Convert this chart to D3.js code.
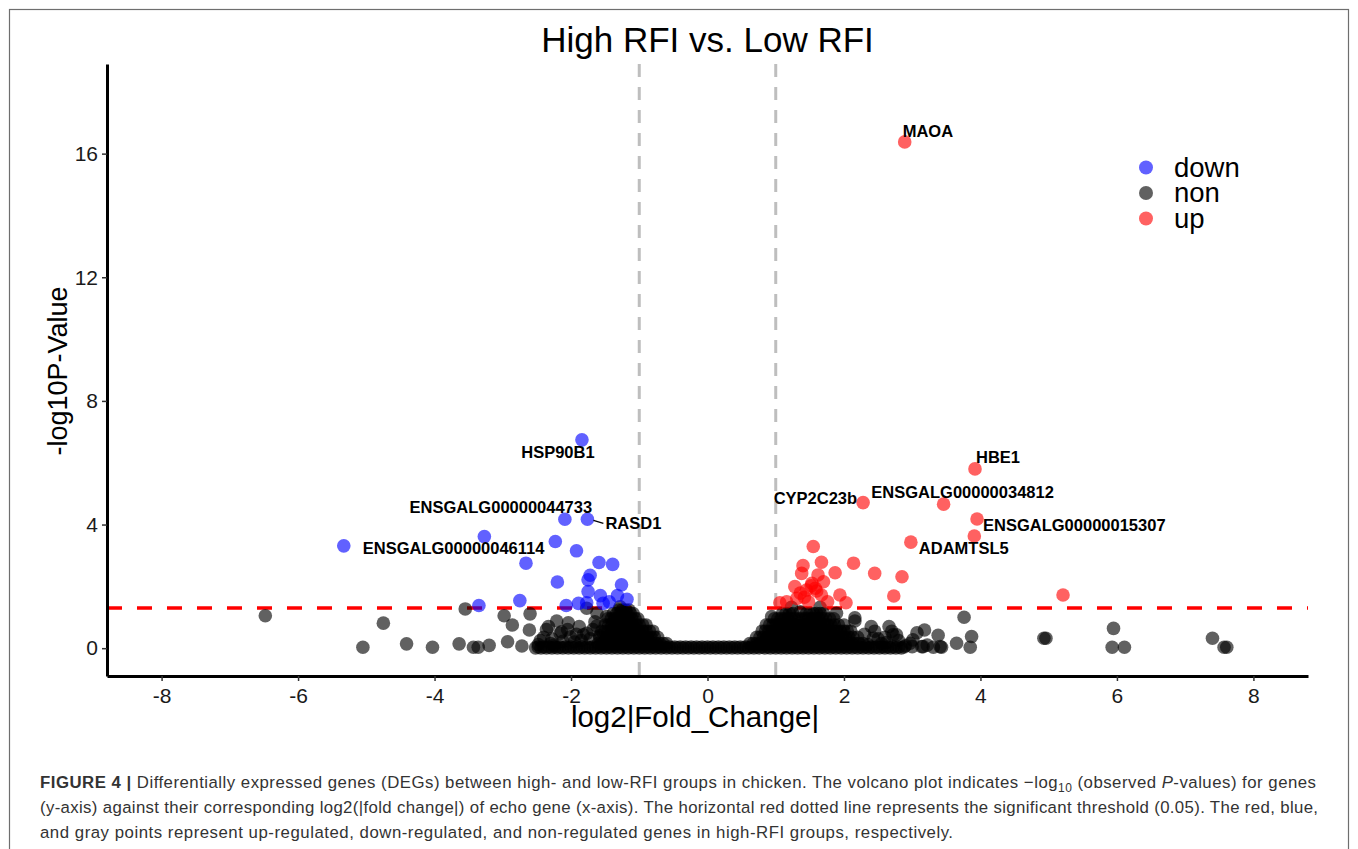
<!DOCTYPE html>
<html>
<head>
<meta charset="utf-8">
<script src="https://cdn.jsdelivr.net/npm/d3@7"></script>
<style>
  html, body { margin: 0; padding: 0; background: #fff; }
  svg { display: block; font-family: "Liberation Sans", Arial, sans-serif; }
</style>
</head>
<body>
<div id="chart"></div>
<script>
// ============= Data (log2 fold change, -log10 p) =============

const downGenes = [
  [-1.84, 6.74, "HSP90B1"], [-2.09, 4.17, "ENSGALG00000044733"], [-1.76, 4.17, "RASD1"],
  [-3.27, 3.61], [-5.33, 3.31, "ENSGALG00000046114"], [-2.23, 3.45], [-1.92, 3.15],
  [-2.66, 2.75], [-1.59, 2.77], [-1.39, 2.71], [-1.72, 2.36], [-1.75, 2.21], [-2.20, 2.14],
  [-1.26, 2.05], [-1.75, 1.83], [-1.57, 1.70], [-1.32, 1.70], [-1.18, 1.58], [-1.44, 1.50],
  [-2.75, 1.54], [-3.35, 1.38], [-2.07, 1.38], [-1.89, 1.45], [-1.77, 1.47], [-1.53, 1.45]
];

const upGenes = [
  [2.89, 16.38, "MAOA"], [3.92, 5.80, "HBE1"], [2.28, 4.71, "CYP2C23b"],
  [3.46, 4.66, "ENSGALG00000034812"], [3.95, 4.18, "ENSGALG00000015307"], [3.91, 3.63],
  [2.98, 3.43, "ADAMTSL5"], [1.55, 3.29], [1.40, 2.67], [1.67, 2.78], [2.14, 2.75],
  [2.45, 2.42], [2.85, 2.31], [1.38, 2.42], [1.62, 2.37], [1.87, 2.44], [1.70, 2.15],
  [1.53, 2.10], [1.28, 1.99], [1.45, 1.88], [1.58, 1.94], [1.36, 1.78], [1.67, 1.72],
  [1.94, 1.72], [2.73, 1.69], [1.16, 1.50], [1.31, 1.61], [1.48, 1.50], [1.76, 1.50],
  [2.03, 1.47], [5.21, 1.72], [1.06, 1.47], [1.52, 2.02], [1.60, 1.85], [1.42, 1.65]
];

// non-significant genes that stand apart
const nonGenes = [
  [-6.48, 1.05], [-5.05, 0.03], [-4.75, 0.81], [-4.41, 0.14], [-4.03, 0.03], [-3.64, 0.14],
  [-3.55, 1.27], [-3.43, 0.03], [-3.36, 0.03], [-3.20, 0.09], [-2.98, 1.05], [-2.93, 0.21],
  [-2.86, 0.75], [-2.72, 0.07], [-2.61, 0.59], [-2.60, 1.11], [-2.48, 0.12], [-2.45, 0.25],
  [-2.40, 0.35], [-2.36, 0.60], [-2.33, 0.70], [-2.30, 0.15], [-2.28, 0.30], [-2.25, 0.10],
  [-2.21, 0.88], [-2.16, 0.48], [-2.14, 0.53], [-2.12, 0.22], [-2.05, 0.60], [-2.04, 0.82],
  [-2.01, 0.37], [-1.95, 0.20], [-1.92, 0.45], [-1.88, 0.70], [-1.85, 0.25], [-1.82, 0.43],
  [-1.77, 1.29], [-1.77, 0.48], [-1.72, 0.30], [-1.68, 0.60], [-1.65, 0.85], [-1.62, 1.13],
  [-1.62, 0.72], [-1.58, 0.40], [-1.48, 1.02], [-1.28, 1.34],
  [1.23, 1.32], [1.65, 1.32], [0.94, 1.02], [2.16, 0.98], [1.36, 1.18], [1.89, 1.13],
  [2.16, 0.88], [2.30, 0.45], [2.35, 0.12], [2.40, 0.70], [2.43, 0.32], [2.45, 0.55],
  [2.50, 0.30], [2.55, 0.15], [2.60, 0.35], [2.62, 0.18], [2.66, 0.70], [2.70, 0.55],
  [2.72, 0.43], [2.77, 0.43], [2.80, 0.25], [2.90, 0.08], [2.97, 0.16], [3.00, 0.05],
  [3.01, 0.27], [3.07, 0.50], [3.14, 0.05], [3.16, 0.05], [3.18, 0.59], [3.22, 0.10],
  [3.31, 0.03], [3.38, 0.42], [3.41, 0.05], [3.43, 0.03], [3.65, 0.16], [3.76, 1.00],
  [3.85, 0.03], [3.87, 0.38], [4.93, 0.32], [4.96, 0.32], [5.93, 0.03], [5.95, 0.64],
  [6.11, 0.03], [7.40, 0.32], [7.57, 0.03], [7.61, 0.03]
];

// the solid black masses: rows of genes at about the same -log10 p
const nonDense = [
  // flat band near p = 1
  [0.01, [-2.52, -2.44, -2.36, -2.28, -2.20, -2.12, -2.04, -1.96, -1.88, -1.80, -1.72, -1.64,
          -1.56, -1.48, -1.40, -1.32, -1.24, -1.16, -1.08, -1.00, -0.92, -0.84, -0.76, -0.68,
          -0.60, -0.52, -0.44, -0.36, -0.28, -0.20, -0.12, -0.04, 0.04, 0.12, 0.20, 0.28,
          0.36, 0.44, 0.52, 0.60, 0.68, 0.76, 0.84, 0.92, 1.00, 1.08, 1.16, 1.24, 1.32,
          1.40, 1.48, 1.56, 1.64, 1.72, 1.80, 1.88, 1.96, 2.04, 2.12, 2.20, 2.28, 2.36,
          2.44, 2.52, 2.60, 2.68, 2.76, 2.84]],
  [0.04, [-2.48, -2.40, -2.32, -2.24, -2.16, -2.08, -2.00, -1.92, -1.84, -1.76, -1.68, -1.60,
          -1.52, -1.44, -1.36, -1.28, -1.20, -1.12, -1.04, -0.96, -0.88, -0.80, -0.72, -0.64,
          -0.56, -0.48, -0.40, -0.32, -0.24, -0.16, -0.08, 0.00, 0.08, 0.16, 0.24, 0.32,
          0.40, 0.48, 0.56, 0.64, 0.72, 0.80, 0.88, 0.96, 1.04, 1.12, 1.20, 1.28, 1.36,
          1.44, 1.52, 1.60, 1.68, 1.76, 1.84, 1.92, 2.00, 2.08, 2.16, 2.24, 2.32, 2.40,
          2.48, 2.56, 2.64, 2.72, 2.80, 2.88]],
  // left mound
  [0.15, [-1.60, -1.55, -1.50, -1.45, -1.40, -1.35, -1.30, -1.25, -1.20, -1.15, -1.10, -1.05,
          -1.00, -0.95, -0.90, -0.85, -0.80, -0.75, -0.70, -0.65, -0.60]],
  [0.35, [-1.58, -1.53, -1.48, -1.43, -1.38, -1.33, -1.28, -1.23, -1.18, -1.13, -1.08, -1.03,
          -0.98, -0.93, -0.88, -0.83, -0.78, -0.73]],
  [0.55, [-1.55, -1.50, -1.45, -1.40, -1.35, -1.30, -1.25, -1.20, -1.15, -1.10, -1.05, -1.00,
          -0.95, -0.90, -0.85, -0.80]],
  [0.75, [-1.50, -1.45, -1.40, -1.35, -1.30, -1.25, -1.20, -1.15, -1.10, -1.05, -1.00, -0.95,
          -0.90]],
  [0.95, [-1.46, -1.41, -1.36, -1.31, -1.26, -1.21, -1.16, -1.11, -1.06, -1.02]],
  [1.12, [-1.38, -1.33, -1.28, -1.23, -1.18, -1.13, -1.09]],
  [1.23, [-1.30, -1.25, -1.20, -1.15]],
  // right mound
  [0.15, [0.62, 0.67, 0.72, 0.77, 0.82, 0.87, 0.92, 0.97, 1.02, 1.07, 1.12, 1.17, 1.22, 1.27,
          1.32, 1.37, 1.42, 1.47, 1.52, 1.57, 1.62, 1.67, 1.72, 1.77, 1.82, 1.87, 1.92, 1.97,
          2.02, 2.07, 2.12, 2.17, 2.22, 2.28]],
  [0.35, [0.72, 0.77, 0.82, 0.87, 0.92, 0.97, 1.02, 1.07, 1.12, 1.17, 1.22, 1.27, 1.32, 1.37,
          1.42, 1.47, 1.52, 1.57, 1.62, 1.67, 1.72, 1.77, 1.82, 1.87, 1.92, 1.97, 2.02, 2.07,
          2.13, 2.20]],
  [0.55, [0.80, 0.85, 0.90, 0.95, 1.00, 1.05, 1.10, 1.15, 1.20, 1.25, 1.30, 1.35, 1.40, 1.45,
          1.50, 1.55, 1.60, 1.65, 1.70, 1.75, 1.80, 1.85, 1.90, 1.95, 2.00, 2.05, 2.10]],
  [0.75, [0.86, 0.91, 0.96, 1.01, 1.06, 1.11, 1.16, 1.21, 1.26, 1.31, 1.36, 1.41, 1.46, 1.51,
          1.56, 1.61, 1.66, 1.71, 1.76, 1.81, 1.86, 1.92, 2.00]],
  [0.95, [0.98, 1.03, 1.08, 1.13, 1.18, 1.23, 1.28, 1.33, 1.38, 1.43, 1.48, 1.53, 1.58, 1.63,
          1.68, 1.73, 1.79, 1.85]],
  [1.12, [1.10, 1.15, 1.20, 1.25, 1.45, 1.50, 1.55, 1.60, 1.65, 1.70]]
];

const groups = ["down", "non", "up"];
const xTicks = [-8, -6, -4, -2, 0, 2, 4, 6, 8];
const yTicks = [0, 4, 8, 12, 16];
const foldCut = 1;       // |log2FC| = 1
const pCut = 0.05;       // significance threshold

const captionLines = [
  [["FIGURE 4 | ", "b"], ["Differentially expressed genes (DEGs) between high- and low-RFI groups in chicken. The volcano plot indicates \u2212log", ""], ["10", "sub"], [" (observed ", "up"], ["P", "i"], ["-values) for genes", ""]],
  [["(y-axis) against their corresponding log2(|fold change|) of echo gene (x-axis). The horizontal red dotted line represents the significant threshold (0.05). The red, blue,", ""]],
  [["and gray points represent up-regulated, down-regulated, and non-regulated genes in high-RFI groups, respectively.", ""]]
];
const captionWidths = [1276, 1278, 913];

// label placement (px offset from its point, text anchor)
const labelNudge = {
  "MAOA": [-2, -5, "start"],
  "HSP90B1": [-24, 18, "middle"],
  "ENSGALG00000044733": [-64, -6, "middle"],
  "RASD1": [18, 10, "start"],
  "ENSGALG00000046114": [19, 8, "start"],
  "HBE1": [1, -6, "start"],
  "CYP2C23b": [-6, 1, "end"],
  "ENSGALG00000034812": [19, -6, "middle"],
  "ENSGALG00000015307": [6, 12, "start"],
  "ADAMTSL5": [8, 12, "start"]
};

// ============= Layout =============
const width = 1358;
const height = 849;
const panel = { left: 107, right: 1308, top: 64, bottom: 676 };
const font = '"Liberation Sans", Arial, sans-serif';

const x = d3.scaleLinear().domain([-8.8, 8.8]).range([panel.left, panel.right]);
const y = d3.scaleLinear().domain([-0.9, 18.9]).range([panel.bottom, panel.top]);
const color = d3.scaleOrdinal().domain(groups).range(["#0000ff", "#000000", "#ff0000"]);

const points = [
  ...nonGenes.map(d => ({ fc: d[0], p: d[1], group: "non" })),
  ...nonDense.flatMap(([p, xs]) => xs.map(fc => ({ fc, p, group: "non" }))),
  ...downGenes.map(d => ({ fc: d[0], p: d[1], group: "down", gene: d[2] })),
  ...upGenes.map(d => ({ fc: d[0], p: d[1], group: "up", gene: d[2] }))
];

const svg = d3.select("#chart").append("svg")
  .attr("width", width)
  .attr("height", height);

// figure frame
svg.append("rect")
  .attr("x", 9.5).attr("y", 9.5)
  .attr("width", 1339).attr("height", 900)
  .attr("fill", "none")
  .attr("stroke", "#6e6e6e")
  .attr("stroke-width", 1.2);

// title
svg.append("text")
  .attr("x", (panel.left + panel.right) / 2)
  .attr("y", 52)
  .attr("text-anchor", "middle")
  .attr("font-size", 35)
  .attr("fill", "#000")
  .text("High RFI vs. Low RFI");

// ============= Threshold lines =============
svg.append("g").selectAll("line")
  .data([-foldCut, foldCut])
  .join("line")
  .attr("x1", d => x(d)).attr("x2", d => x(d))
  .attr("y1", panel.top).attr("y2", panel.bottom)
  .attr("stroke", "#bebebe")
  .attr("stroke-width", 3)
  .attr("stroke-dasharray", "13,10");

svg.append("line")
  .attr("x1", panel.left).attr("x2", panel.right)
  .attr("y1", y(-Math.log10(pCut))).attr("y2", y(-Math.log10(pCut)))
  .attr("stroke", "#ff0000")
  .attr("stroke-width", 3.5)
  .attr("stroke-dasharray", "15,15");

// ============= Points =============
svg.append("g").selectAll("circle")
  .data(points)
  .join("circle")
  .attr("cx", d => x(d.fc))
  .attr("cy", d => y(d.p))
  .attr("r", 6.8)
  .attr("fill", d => color(d.group))
  .attr("fill-opacity", 0.62);

// ============= Gene labels =============
const labelled = points.filter(d => d.gene);
const labels = svg.append("g")
  .attr("font-size", 16.5)
  .attr("font-weight", "bold")
  .attr("fill", "#000");

labels.selectAll("text")
  .data(labelled)
  .join("text")
  .attr("x", d => x(d.fc) + labelNudge[d.gene][0])
  .attr("y", d => y(d.p) + labelNudge[d.gene][1])
  .attr("text-anchor", d => labelNudge[d.gene][2])
  .text(d => d.gene);

// ggrepel segment for RASD1
const rasd = labelled.find(d => d.gene === "RASD1");
svg.append("line")
  .attr("x1", x(rasd.fc) + 6).attr("y1", y(rasd.p) + 1)
  .attr("x2", x(rasd.fc) + 16).attr("y2", y(rasd.p) + 4)
  .attr("stroke", "#000")
  .attr("stroke-width", 1.3);

// ============= Axes =============
const xAxis = svg.append("g")
  .attr("transform", `translate(0,${panel.bottom})`)
  .call(d3.axisBottom(x).tickValues(xTicks).tickFormat(d => String(d))
    .tickSize(5).tickSizeOuter(0).tickPadding(7));

const yAxis = svg.append("g")
  .attr("transform", `translate(${panel.left},0)`)
  .call(d3.axisLeft(y).tickValues(yTicks).tickFormat(d => String(d))
    .tickSize(5).tickSizeOuter(0).tickPadding(4));

[xAxis, yAxis].forEach(g => {
  g.attr("font-family", font).attr("font-size", 21);
  g.select(".domain").attr("stroke", "#000").attr("stroke-width", 3);
  g.selectAll(".tick line").attr("stroke", "#333").attr("stroke-width", 1.5);
  g.selectAll(".tick text").attr("fill", "#1a1a1a");
});

svg.append("text")
  .attr("x", 695)
  .attr("y", 727)
  .attr("text-anchor", "middle")
  .attr("font-size", 29.5)
  .attr("fill", "#000")
  .text("log2|Fold_Change|");

svg.append("text")
  .attr("transform", `translate(67,${(panel.top + panel.bottom) / 2 + 1}) rotate(-90)`)
  .attr("text-anchor", "middle")
  .attr("font-size", 27)
  .attr("fill", "#000")
  .text("-log10P-Value");

// ============= Legend =============
const legend = svg.append("g").attr("transform", "translate(1146,167.5)");
const rows = legend.selectAll("g")
  .data(groups)
  .join("g")
  .attr("transform", (d, i) => `translate(0,${i * 25.5})`);
rows.append("circle")
  .attr("r", 7)
  .attr("fill", d => color(d))
  .attr("fill-opacity", 0.62);
rows.append("text")
  .attr("x", 28)
  .attr("y", 9)
  .attr("font-size", 27.5)
  .attr("fill", "#000")
  .text(d => d);

// ============= Caption =============
const caption = svg.append("g")
  .attr("font-size", 16.8)
  .attr("fill", "#333");

captionLines.forEach((line, i) => {
  const t = caption.append("text")
    .attr("x", 40)
    .attr("y", 788 + i * 25)
    .attr("textLength", captionWidths[i])
    .attr("lengthAdjust", "spacing");
  line.forEach(([str, style]) => {
    const s = t.append("tspan").text(str);
    if (style === "b") s.attr("font-weight", "bold");
    if (style === "i") s.attr("font-style", "italic");
    if (style === "sub") s.attr("font-size", 12).attr("dy", 4);
    if (style === "up") s.attr("dy", -4);
  });
});
</script>
</body>
</html>
